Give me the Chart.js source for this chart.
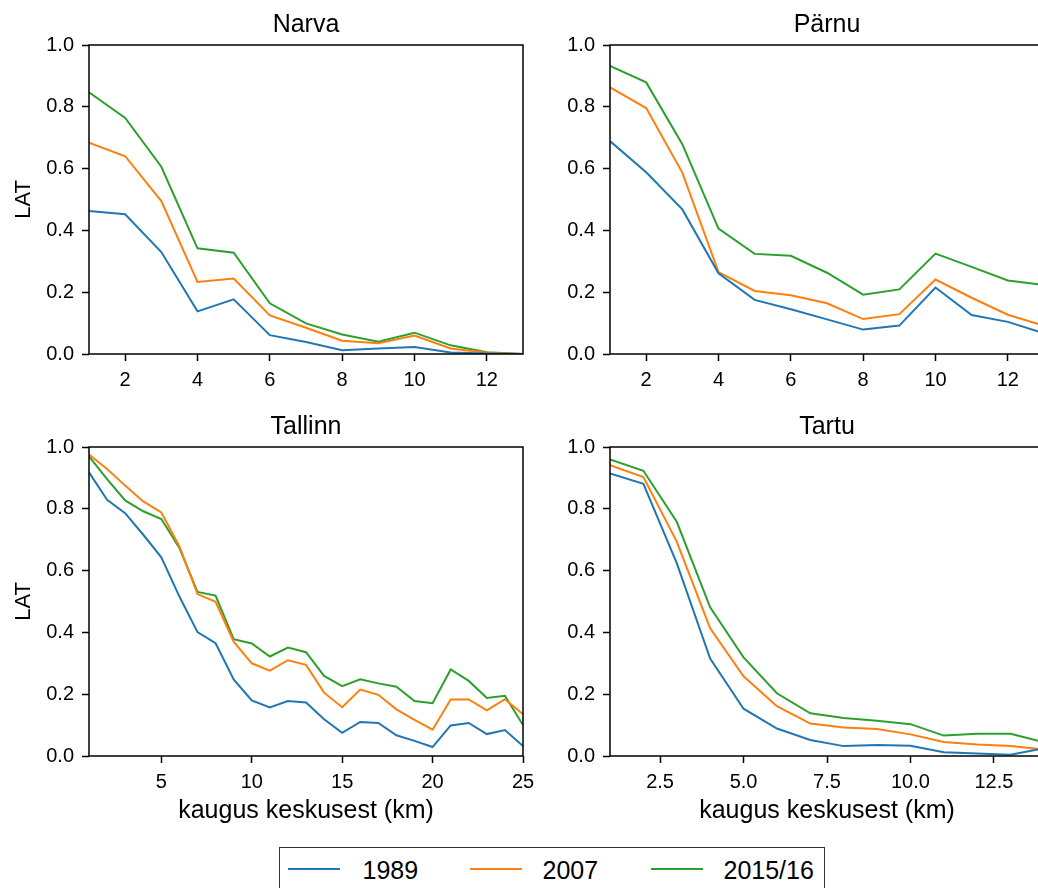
<!DOCTYPE html>
<html>
<head>
<meta charset="utf-8">
<script src="https://cdn.jsdelivr.net/npm/chart.js@4.4.0/dist/chart.umd.min.js"></script>
<style>
html,body{margin:0;padding:0;background:#fff;overflow:hidden;width:1038px;height:888px;}
canvas{position:absolute;}
#legend{position:absolute;left:279px;top:847px;width:546px;height:60px;border:1.5px solid #333;box-sizing:border-box;font-family:"Liberation Sans",Arial,sans-serif;font-size:25px;color:#000;background:#fff;}
#legend .ln{position:absolute;top:20px;width:52px;height:2px;}
#legend .tx{position:absolute;top:6.5px;line-height:30px;white-space:nowrap;}
</style>
</head>
<body>
<canvas id="c1" width="538" height="394" style="left:0px;top:0px"></canvas>
<canvas id="c2" width="538" height="394" style="left:521px;top:0px"></canvas>
<canvas id="c3" width="538" height="434" style="left:0px;top:402px"></canvas>
<canvas id="c4" width="538" height="434" style="left:521px;top:402px"></canvas>
<div id="legend"></div>
<script>
// ---- data ----
const seriesNames = ['1989', '2007', '2015/16'];
const seriesColors = ['#1f77b4', '#ff7f0e', '#2ca02c'];

const yTickVals = [0, 0.2, 0.4, 0.6, 0.8, 1.0];
const yTickLabels = ['0.0', '0.2', '0.4', '0.6', '0.8', '1.0'];

const narvaDist = [1,2,3,4,5,6,7,8,9,10,11,12,13];
const narva1989 = [0.463,0.452,0.330,0.138,0.177,0.061,0.039,0.012,0.018,0.023,0.005,0.002,0.000];
const narva2007 = [0.684,0.640,0.495,0.233,0.244,0.125,0.085,0.043,0.035,0.060,0.018,0.004,0.000];
const narva2015 = [0.847,0.764,0.606,0.342,0.328,0.164,0.099,0.063,0.040,0.069,0.028,0.006,0.000];
const narvaTicks = [2,4,6,8,10,12];
const narvaTickLabels = ['2','4','6','8','10','12'];

const parnuDist = [1,2,3,4,5,6,7,8,9,10,11,12,13];
const parnu1989 = [0.689,0.588,0.468,0.261,0.175,0.145,0.112,0.079,0.092,0.215,0.126,0.104,0.067];
const parnu2007 = [0.863,0.796,0.587,0.265,0.204,0.190,0.164,0.113,0.129,0.241,0.182,0.127,0.091];
const parnu2015 = [0.932,0.879,0.679,0.406,0.324,0.318,0.263,0.192,0.209,0.325,0.282,0.238,0.223];
const parnuTicks = [2,4,6,8,10,12];
const parnuTickLabels = ['2','4','6','8','10','12'];

const tallinnDist = [1,2,3,4,5,6,7,8,9,10,11,12,13,14,15,16,17,18,19,20,21,22,23,24,25];
const tallinn1989 = [0.918,0.829,0.786,0.716,0.643,0.516,0.401,0.365,0.248,0.180,0.157,0.178,0.173,0.119,0.075,0.110,0.107,0.067,0.049,0.029,0.099,0.107,0.071,0.084,0.032];
const tallinn2007 = [0.976,0.929,0.875,0.824,0.788,0.678,0.524,0.499,0.370,0.300,0.276,0.310,0.295,0.205,0.158,0.215,0.198,0.151,0.117,0.085,0.183,0.183,0.148,0.184,0.135];
const tallinn2015 = [0.970,0.896,0.827,0.792,0.767,0.673,0.531,0.519,0.378,0.364,0.322,0.351,0.336,0.259,0.226,0.248,0.235,0.224,0.178,0.171,0.280,0.243,0.188,0.195,0.100];
const tallinnTicks = [5,10,15,20,25];
const tallinnTickLabels = ['5','10','15','20','25'];

const tartuDist = [1,2,3,4,5,6,7,8,9,10,11,12,13,14];
const tartu1989 = [0.914,0.881,0.624,0.315,0.153,0.089,0.052,0.032,0.036,0.033,0.012,0.008,0.004,0.025];
const tartu2007 = [0.941,0.903,0.694,0.413,0.258,0.161,0.105,0.092,0.087,0.070,0.045,0.037,0.032,0.021];
const tartu2015 = [0.960,0.923,0.758,0.481,0.319,0.203,0.138,0.123,0.114,0.103,0.066,0.072,0.072,0.044];
const tartuTicks = [2.5,5,7.5,10,12.5];
const tartuTickLabels = ['2.5','5.0','7.5','10.0','12.5'];

const yLabel = 'LAT';
const xLabel = 'kaugus keskusest (km)';

// ---- drawing ----
const FONT = '"Liberation Sans", Arial, sans-serif';
Chart.defaults.font.family = FONT;
Chart.defaults.color = '#000';

const spinePlugin = {
  id: 'spines',
  afterDraw(chart) {
    const {ctx, chartArea: a} = chart;
    ctx.save();
    ctx.strokeStyle = '#000';
    ctx.lineWidth = 1.5;
    ctx.strokeRect(a.left, a.top, a.right - a.left, a.bottom - a.top);
    ctx.restore();
  }
};

function panel(id, title, dist, vals, xMin, xMax, xTicks, xTickLabels, showY, showX) {
  const xH = showX ? 80 : 40;
  const tickGrid = {display: true, drawOnChartArea: false, drawTicks: true, tickLength: 7, tickWidth: 1.5, tickColor: '#000'};
  new Chart(document.getElementById(id), {
    type: 'line',
    data: {
      datasets: vals.map((v, i) => ({
        label: seriesNames[i],
        data: dist.map((d, j) => ({x: d, y: v[j]})),
        borderColor: seriesColors[i],
        backgroundColor: seriesColors[i],
        borderWidth: 2,
        pointRadius: 0,
        tension: 0,
        fill: false
      }))
    },
    options: {
      responsive: false,
      animation: false,
      devicePixelRatio: 1,
      layout: {padding: {left: 0, right: 15, top: 0, bottom: 0}},
      plugins: {
        legend: {display: false},
        tooltip: {enabled: false},
        title: {display: true, text: title, fullSize: false, color: '#000',
                font: {size: 25, weight: 'normal'}, padding: {top: 10.5, bottom: 4.5}}
      },
      scales: {
        x: {
          type: 'linear', min: xMin, max: xMax,
          afterBuildTicks: s => { s.ticks = xTicks.map(v => ({value: v})); },
          ticks: {font: {size: 20}, padding: 7, maxRotation: 0, autoSkip: false,
                  callback: (v, i) => xTickLabels[i]},
          grid: tickGrid,
          border: {display: false},
          title: {display: showX, text: xLabel, font: {size: 25}, padding: {top: 0, bottom: 10}},
          afterFit: s => { s.height = xH; s.paddingLeft = 0; s.paddingRight = 0; }
        },
        y: {
          type: 'linear', min: 0, max: 1,
          afterBuildTicks: s => { s.ticks = yTickVals.map(v => ({value: v})); },
          ticks: {font: {size: 20}, padding: 8, callback: (v, i) => yTickLabels[i]},
          grid: tickGrid,
          border: {display: false},
          title: {display: showY, text: yLabel, font: {size: 22}, padding: {top: 11, bottom: 0}},
          afterFit: s => { s.width = 89; s.paddingTop = 0; s.paddingBottom = 0; }
        }
      }
    },
    plugins: [spinePlugin]
  });
}

panel('c1', 'Narva', narvaDist, [narva1989, narva2007, narva2015], 1, 13, narvaTicks, narvaTickLabels, true, false);
panel('c2', 'Pärnu', parnuDist, [parnu1989, parnu2007, parnu2015], 1, 13, parnuTicks, parnuTickLabels, false, false);
panel('c3', 'Tallinn', tallinnDist, [tallinn1989, tallinn2007, tallinn2015], 1, 25, tallinnTicks, tallinnTickLabels, true, true);
panel('c4', 'Tartu', tartuDist, [tartu1989, tartu2007, tartu2015], 1, 14, tartuTicks, tartuTickLabels, false, true);

// legend (HTML)
const legend = document.getElementById('legend');
const lineLefts = [7.5, 189.5, 370.5];
const textLefts = [82.5, 262.5, 443.5];
seriesNames.forEach((n, i) => {
  const l = document.createElement('div');
  l.className = 'ln'; l.style.left = lineLefts[i] + 'px'; l.style.background = seriesColors[i];
  legend.appendChild(l);
  const t = document.createElement('div');
  t.className = 'tx'; t.style.left = textLefts[i] + 'px'; t.textContent = n;
  legend.appendChild(t);
});
</script>
</body>
</html>
